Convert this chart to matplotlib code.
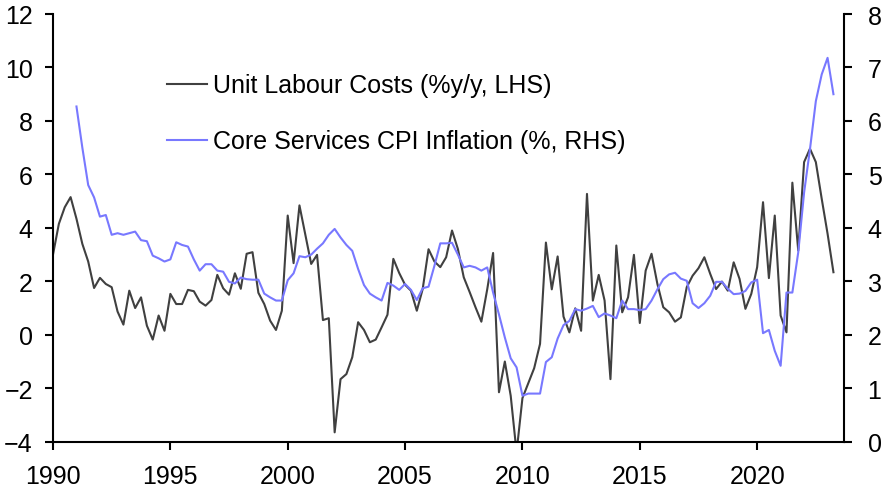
import matplotlib
matplotlib.use("Agg")
import matplotlib.pyplot as plt
import numpy as np

plt.rcParams['font.family'] = ['Liberation Sans', 'DejaVu Sans']

# Unit labour costs, %y/y (quarterly from 1990Q1)
ulc_start = 1990
ulc = [3.0, 4.15, 4.77, 5.15,
       4.34, 3.40, 2.74, 1.75,
       2.13, 1.90, 1.78, 0.87,
       0.38, 1.65, 1.00, 1.40,
       0.34, -0.18, 0.72, 0.15,
       1.53, 1.15, 1.15, 1.68,
       1.63, 1.24, 1.09, 1.30,
       2.24, 1.74, 1.50, 2.30,
       1.72, 3.03, 3.09, 1.57,
       1.15, 0.53, 0.18, 0.90,
       4.46, 2.68, 4.84, 3.75,
       2.65, 2.99, 0.55, 0.62,
       -3.65, -1.66, -1.47, -0.84,
       0.47, 0.18, -0.28, -0.18,
       0.28, 0.75, 2.84, 2.31,
       1.87, 1.65, 0.90, 1.71,
       3.20, 2.74, 2.53, 2.90,
       3.90, 3.21, 2.15, 1.60,
       1.03, 0.49, 1.70, 3.06,
       -2.15, -1.00, -2.28, -4.40,
       -2.37, -1.81, -1.25, -0.34,
       3.45, 1.70, 2.93, 0.68,
       0.09, 0.99, 0.15, 5.27,
       1.28, 2.24, 1.28, -1.66,
       3.34, 0.84, 1.40, 2.99,
       0.44, 2.40, 3.03, 1.90,
       1.03, 0.84, 0.49, 0.65,
       1.78, 2.21, 2.49, 2.90,
       2.28, 1.71, 1.99, 1.65,
       2.71, 2.09, 0.97, 1.53,
       2.53, 4.96, 2.12, 4.46,
       0.72, 0.09, 5.69, 3.15,
       6.46, 6.96, 6.46, 5.09,
       3.78, 2.34]

# Core services CPI inflation, % (quarterly from 1991Q1)
cpi_start = 1991
core_services = [6.27, 5.50, 4.80, 4.57,
                 4.21, 4.24, 3.87, 3.90,
                 3.87, 3.90, 3.93, 3.77,
                 3.75, 3.48, 3.43, 3.37,
                 3.41, 3.73, 3.68, 3.65,
                 3.41, 3.20, 3.32, 3.32,
                 3.20, 3.18, 2.99, 2.96,
                 3.07, 3.04, 3.03, 3.03,
                 2.77, 2.70, 2.64, 2.64,
                 3.02, 3.15, 3.47, 3.45,
                 3.50, 3.61, 3.71, 3.87,
                 3.98, 3.82, 3.68, 3.57,
                 3.23, 2.93, 2.77, 2.70,
                 2.64, 2.97, 2.92, 2.84,
                 2.95, 2.84, 2.65, 2.87,
                 2.90, 3.29, 3.71, 3.71,
                 3.72, 3.50, 3.26, 3.29,
                 3.26, 3.20, 3.26, 2.79,
                 2.38, 1.95, 1.56, 1.39,
                 0.86, 0.90, 0.90, 0.90,
                 1.49, 1.58, 1.93, 2.18,
                 2.26, 2.48, 2.45, 2.49,
                 2.54, 2.33, 2.40, 2.36,
                 2.31, 2.64, 2.48, 2.48,
                 2.46, 2.48, 2.64, 2.85,
                 3.04, 3.13, 3.16, 3.05,
                 3.01, 2.59, 2.50, 2.59,
                 2.73, 2.99, 2.99, 2.86,
                 2.76, 2.77, 2.82, 2.98,
                 3.03, 2.03, 2.09, 1.70,
                 1.42, 2.79, 2.79, 3.54,
                 4.66, 5.47, 6.37, 6.87,
                 7.18, 6.50]

x_ticks = [1990, 1995, 2000, 2005, 2010, 2015, 2020]
left_ticks = [-4, -2, 0, 2, 4, 6, 8, 10, 12]
right_ticks = [0, 1, 2, 3, 4, 5, 6, 7, 8]

ulc_x = ulc_start + np.arange(len(ulc)) / 4.0
cpi_x = cpi_start + np.arange(len(core_services)) / 4.0

W, H = 884, 489
fig = plt.figure(figsize=(W / 100, H / 100), dpi=100)
ax = fig.add_axes([53 / W, 1 - 442.7 / H, (844 - 53) / W, (442.7 - 15) / H])
ax2 = ax.twinx()

FS = 18
l1, = ax.plot(ulc_x, ulc, color='#404040', lw=1.5, label='Unit Labour Costs (%y/y, LHS)')
l2, = ax2.plot(cpi_x, core_services, color='#7878FF', lw=1.5, label='Core Services CPI Inflation (%, RHS)')

ax.set_xlim(1990, 2023.7)
ax.set_ylim(-4, 12)
ax2.set_ylim(0, 8)
ax.set_xticks(x_ticks)
ax.set_yticks(left_ticks)
ax2.set_yticks(right_ticks)

for a in (ax, ax2):
    for s in a.spines.values():
        s.set_linewidth(1.5)
    a.spines['top'].set_visible(False)
    a.tick_params(length=5.5, width=1.5, labelsize=FS, direction='out')
ax.tick_params(axis='x', pad=10.5)
ax.tick_params(axis='y', pad=9)
ax2.tick_params(axis='y', pad=11.5)
ax.spines['right'].set_visible(False)
ax2.spines['left'].set_visible(False)
ax2.spines['bottom'].set_visible(False)

leg = fig.legend(handles=[l1, l2], loc='upper left',
                 bbox_to_anchor=(166.7 / W, 1 - 74.5 / H),
                 frameon=False, fontsize=FS, handlelength=1.6,
                 handletextpad=0.25, labelspacing=1.27,
                 borderpad=0, borderaxespad=0)

fig.savefig('out.png', dpi=100)
